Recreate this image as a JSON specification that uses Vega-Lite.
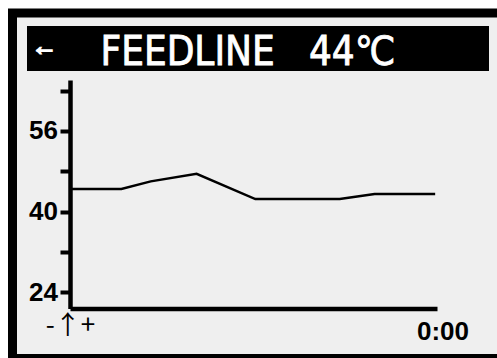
{
  "$schema": "https://vega.github.io/schema/vega-lite/v6.json",
  "width": 497.5,
  "height": 345.5,
  "autosize": {"type": "none"},
  "padding": {"left": 12.5, "top": 13, "right": -13, "bottom": -0.5},
  "background": "#ffffff",
  "config": {"view": {"fill": "#efefef", "stroke": "#000000", "strokeWidth": 9}},
  "resolve": {"scale": {"x": "independent", "y": "independent"}},
  "layer": [
    {
      "data": {"values": [{"arrow": "←", "title": "FEEDLINE\u00a0\u00a0\u00a044℃"}]},
      "layer": [
        {
          "mark": {"type": "rect", "color": "#000000"},
          "encoding": {
            "x": {"datum": 0, "type": "quantitative", "scale": {"domain": [0, 100], "range": [14.5, 476.5], "nice": false, "zero": false}, "axis": null},
            "x2": {"datum": 100},
            "y": {"datum": 0, "type": "quantitative", "scale": {"domain": [0, 100], "range": [58, 13], "nice": false, "zero": false}, "axis": null},
            "y2": {"datum": 100}
          }
        },
        {
          "mark": {"type": "text", "color": "#ffffff", "stroke": "#ffffff", "strokeWidth": 1.5, "font": "Liberation Sans", "fontWeight": "bold", "fontSize": 26, "align": "center", "baseline": "middle"},
          "encoding": {
            "x": {"datum": 3.8, "type": "quantitative"},
            "y": {"datum": 54.4, "type": "quantitative"},
            "text": {"field": "arrow"}
          }
        },
        {
          "mark": {"type": "text", "color": "#ffffff", "stroke": "#ffffff", "strokeWidth": 0.8, "font": "DejaVu Sans Condensed", "fontSize": 40, "align": "left", "baseline": "alphabetic"},
          "encoding": {
            "x": {"datum": 15.9, "type": "quantitative"},
            "y": {"datum": 13.3, "type": "quantitative"},
            "text": {"field": "title"}
          }
        }
      ]
    },
    {
      "data": {"values": [
        {"t": 0, "temp": 44.5},
        {"t": 14, "temp": 44.5},
        {"t": 22, "temp": 46},
        {"t": 34.5, "temp": 47.5},
        {"t": 50.5, "temp": 42.5},
        {"t": 73.5, "temp": 42.5},
        {"t": 83, "temp": 43.5},
        {"t": 99.5, "temp": 43.5}
      ]},
      "mark": {"type": "line", "color": "#000000", "strokeWidth": 2.5},
      "encoding": {
        "x": {
          "field": "t", "type": "quantitative",
          "scale": {"domain": [0, 100], "range": [57.5, 424.5], "nice": false, "zero": false},
          "axis": {
            "orient": "bottom",
            "title": null, "values": [0, 100], "grid": false,
            "labelExpr": "datum.value == 0 ? '-↑+' : '0:00'",
            "ticks": false, "tickSize": 0,
            "domainColor": "#000000", "domainWidth": 4.5,
            "offset": -50,
            "labelPadding": {"condition": {"test": "datum.value > 50", "value": 10}, "value": 4},
            "labelFont": {"condition": {"test": "datum.value > 50", "value": "Liberation Sans"}, "value": "Noto Sans CJK JP"},
            "labelFontSize": 26,
            "labelFontWeight": {"condition": {"test": "datum.value > 50", "value": "bold"}, "value": "normal"},
            "labelColor": "#000000",
            "labelOffset": {"condition": {"test": "datum.value > 50", "value": 5.5}, "value": 0},
            "labelFlush": false, "labelOverlap": false
          }
        },
        "y": {
          "field": "temp", "type": "quantitative",
          "scale": {"domain": [20.8, 66.1], "range": [295.5, 67], "nice": false, "zero": false},
          "axis": {
            "orient": "left",
            "title": null, "values": [24, 32, 40, 48, 56, 64], "grid": false,
            "labelExpr": "datum.value % 16 == 8 ? datum.label : ''",
            "tickSize": 10, "tickWidth": 4, "tickColor": "#000000",
            "domainColor": "#000000", "domainWidth": 4.5,
            "offset": -57.5, "labelPadding": 2.5,
            "labelFont": "Liberation Sans", "labelFontSize": 26, "labelFontWeight": "bold", "labelColor": "#000000",
            "labelFlush": false, "labelOverlap": false
          }
        }
      }
    }
  ]
}
